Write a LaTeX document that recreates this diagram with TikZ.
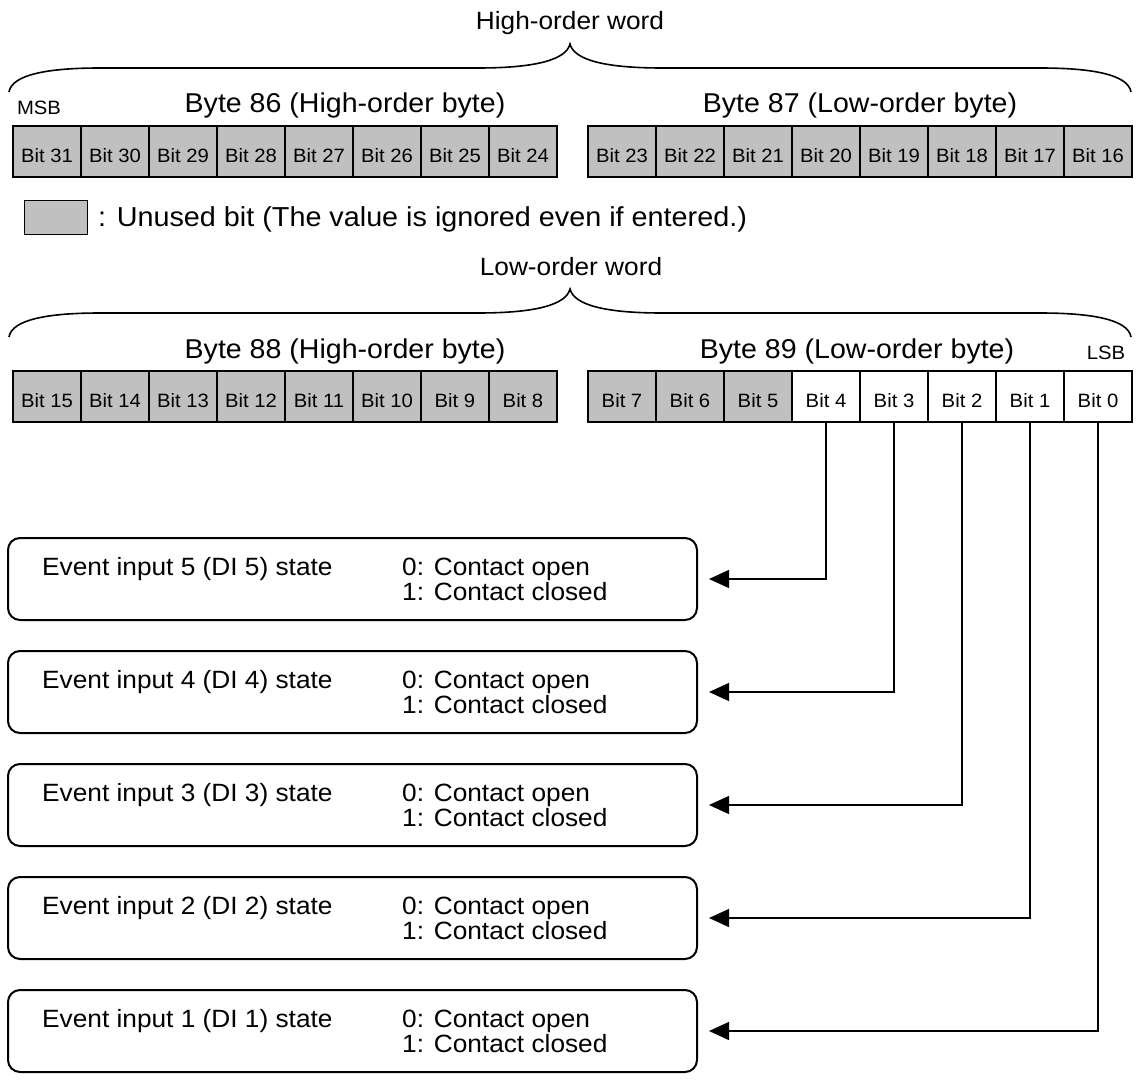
\documentclass[tikz,border=0pt]{standalone}
\usepackage{fontspec}
\setmainfont{Liberation Sans}[FakeStretch=1.05]
\usetikzlibrary{arrows.meta}
\definecolor{unusedgray}{RGB}{192,192,192}

\begin{document}
\begin{tikzpicture}[x=1pt,y=-1pt,
  cell/.style={draw, line width=1.9pt, minimum width=68pt, minimum height=51pt,
    inner sep=0pt, text height=21pt, text depth=0pt,
    font=\fontsize{19.3}{21}\selectfont},
  unused/.style={cell, fill=unusedgray},
  used/.style={cell, fill=white},
  wordlbl/.style={anchor=base, inner sep=0pt, font=\fontsize{25}{29}\selectfont},
  bytelbl/.style={anchor=base, inner sep=0pt, font=\fontsize{27.2}{31}\selectfont},
  sidelbl/.style={anchor=base, inner sep=0pt, font=\fontsize{19.3}{21}\selectfont},
  legendtxt/.style={anchor=base west, inner sep=0pt, font=\fontsize{27.4}{31}\selectfont},
  legendbox/.style={draw, line width=1pt, fill=unusedgray, minimum width=63pt,
    minimum height=34pt, inner sep=0pt},
  evbox/.style={draw, line width=2pt, rounded corners=12pt, minimum width=689pt,
    minimum height=82pt, inner sep=0pt},
  evtxt/.style={anchor=base west, inner sep=0pt, font=\fontsize{25}{29}\selectfont},
  brace/.style={line width=1.6pt},
  conn/.style={line width=1.4pt, -{Triangle[length=20pt,width=18pt]}, shorten >=11pt},
]
\useasboundingbox (0,0) rectangle (1139,1089);

% ---------- high-order word ----------
\node[wordlbl] (hiword) at (570,30) {High-order word};
\draw[brace] (9,92) .. controls (12,74) and (50,68) .. (100,68) -- (478,68)
  .. controls (535,68) and (566,60) .. (570,44)
  .. controls (574,60) and (605,68) .. (662,68) -- (1040,68)
  .. controls (1090,68) and (1128,74) .. (1131,92);
\node[sidelbl] (msb) at (39,114) {MSB};
\node[bytelbl] (byte86) at (345,113) {Byte 86 (High-order byte)};
\node[bytelbl] (byte87) at (860,113) {Byte 87 (Low-order byte)};

\foreach \i in {0,...,7} {
  \pgfmathtruncatemacro\hi{31-\i}
  \pgfmathtruncatemacro\lo{23-\i}
  \node[unused] (b\hi) at ({47+68*\i},151.5) {Bit \hi};
  \node[unused] (b\lo) at ({622+68*\i},151.5) {Bit \lo};
}

% ---------- legend ----------
\node[legendbox] (legbox) at (55.5,217) {};
\node[legendtxt] (legtxt) at (98,226.5) {: Unused bit (The value is ignored even if entered.)};

% ---------- low-order word ----------
\node[wordlbl] (loword) at (571,275) {Low-order word};
\draw[brace] (9,337) .. controls (12,319) and (50,313) .. (100,313) -- (478,313)
  .. controls (535,313) and (566,305) .. (570,289)
  .. controls (574,305) and (605,313) .. (662,313) -- (1040,313)
  .. controls (1090,313) and (1128,319) .. (1131,337);
\node[bytelbl] (byte88) at (345,358) {Byte 88 (High-order byte)};
\node[bytelbl] (byte89) at (857,358) {Byte 89 (Low-order byte)};
\node[sidelbl] (lsb) at (1106,359) {LSB};

\foreach \i in {0,...,7} {
  \pgfmathtruncatemacro\hi{15-\i}
  \pgfmathtruncatemacro\lo{7-\i}
  \node[unused] (b\hi) at ({47+68*\i},396.5) {Bit \hi};
  \ifnum\lo>4 \def\cellstyle{unused}\else\def\cellstyle{used}\fi
  \node[\cellstyle] (b\lo) at ({622+68*\i},396.5) {Bit \lo};
}

% ---------- event input boxes ----------
\foreach \k/\di in {0/5,1/4,2/3,3/2,4/1} {
  \pgfmathsetmacro\top{538+113*\k}
  \node[evbox] (ev\di) at (352.5,{\top+41}) {};
  \node[evtxt] (evname\di) at (42,{\top+37.5}) {Event input \di\ (DI \di) state};
  \node[evtxt] (evopen\di) at (402,{\top+37.5}) {0: Contact open};
  \node[evtxt] (evclosed\di) at (402,{\top+62}) {1: Contact closed};
}

% ---------- bit to box connectors ----------
\draw[conn] (b4.south) |- (ev5.east);
\draw[conn] (b3.south) |- (ev4.east);
\draw[conn] (b2.south) |- (ev3.east);
\draw[conn] (b1.south) |- (ev2.east);
\draw[conn] (b0.south) |- (ev1.east);
\end{tikzpicture}
\end{document}
